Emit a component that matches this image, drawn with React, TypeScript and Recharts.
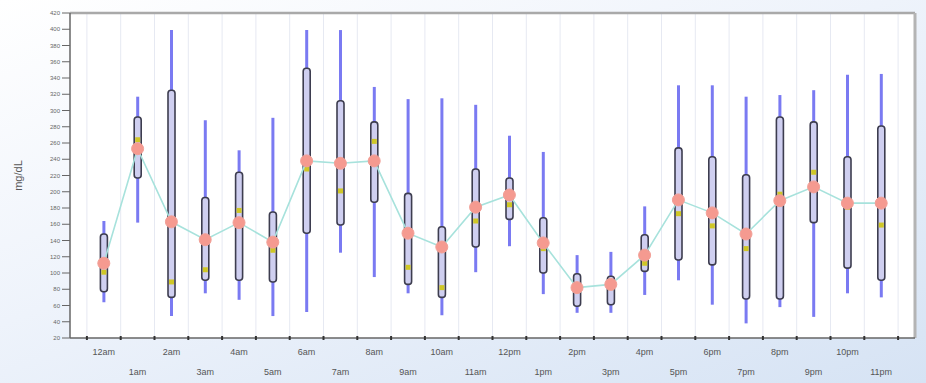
import React from 'react';
import { ComposedChart, Bar, Line, XAxis, YAxis, ReferenceLine, CartesianGrid } from 'recharts';

const hours = ['12am', '1am', '2am', '3am', '4am', '5am', '6am', '7am', '8am', '9am', '10am', '11am',
  '12pm', '1pm', '2pm', '3pm', '4pm', '5pm', '6pm', '7pm', '8pm', '9pm', '10pm', '11pm'];
const mins = [64, 162, 47, 75, 67, 47, 52, 125, 95, 75, 48, 101, 133, 74, 51, 51, 73, 91, 61, 38, 58, 46, 75, 70];
const q1s = [77, 217, 70, 91, 91, 89, 149, 159, 187, 86, 70, 132, 166, 100, 59, 61, 102, 116, 110, 68, 68, 162, 106, 91];
const medians = [101, 264, 89, 104, 177, 128, 228, 201, 262, 107, 82, 164, 184, 130, 79, 82, 112, 173, 158, 130, 197, 224, 181, 159];
const q3s = [148, 292, 325, 193, 224, 175, 352, 312, 286, 198, 157, 228, 217, 168, 99, 96, 147, 254, 243, 221, 292, 286, 243, 281];
const maxs = [164, 317, 399, 288, 251, 291, 399, 399, 329, 314, 315, 307, 269, 249, 122, 126, 182, 331, 331, 317, 319, 325, 344, 345];
const means = [112, 253, 163, 141, 162, 138, 238, 235, 238, 149, 132, 181, 196, 137, 82, 86, 122, 190, 174, 148, 189, 206, 186, 186];

const yTicks = [20, 40, 60, 80, 100, 120, 140, 160, 180, 200, 220, 240, 260, 280, 300, 320, 340, 360, 380, 400, 420];
const centers = hours.map((_, i) => i);
const boundaries = [...centers.map((i) => i - 0.5), hours.length - 0.5];
const xTicks = [...boundaries, ...centers].sort((a, b) => a - b);

const data = hours.map((label, i) => ({
  x: i,
  label,
  min: mins[i],
  q1: q1s[i],
  median: medians[i],
  q3: q3s[i],
  max: maxs[i],
  mean: means[i],
}));

const XTick = (props: any) => {
  const { x, y, payload } = props;
  const v = payload.value;
  if (Number.isInteger(v)) {
    const row = v % 2;
    return (
      <text x={x} y={y + 17 + row * 20} textAnchor="middle" fontSize={9} fill="#555" fontFamily="Arial, 'Liberation Sans', sans-serif">
        {hours[v]}
      </text>
    );
  }
  return <line x1={x} x2={x} y1={y - 2} y2={y + 2} stroke="#333" strokeWidth={2} />;
};

const BoxShape = (props: any) => {
  const { x, y, width, height, payload } = props;
  if (!payload) return null;
  const top = Math.min(y, y + height);
  const h = Math.abs(height);
  const { min, max, q1, q3, median } = payload;
  const py = (v: number) => top + ((max - v) / (max - min)) * h;
  const cx = x + width / 2;
  const bw = 7;
  const yq3 = py(q3);
  const yq1 = py(q1);
  const ym = py(median);
  return (
    <g>
      <line x1={cx} x2={cx} y1={top} y2={top + h} stroke="#7a7af2" strokeWidth={3} />
      <rect x={cx - bw / 2} y={yq3} width={bw} height={yq1 - yq3} rx={3} ry={3} fill="#cfcff0" stroke="#3d3d4f" strokeWidth={1.6} />
      <rect x={cx - 2.5} y={ym - 2.5} width={5} height={5} fill="#cfc726" />
    </g>
  );
};

const YLabel = (props: any) => {
  const vb = props.viewBox;
  const cy = vb.y + vb.height / 2;
  return (
    <text x={22} y={cy} transform={`rotate(-90, 22, ${cy})`} textAnchor="middle" fontSize={11} fill="#555" fontFamily="Arial, 'Liberation Sans', sans-serif">
      mg/dL
    </text>
  );
};

export default function App() {
  return (
    <div
      style={{
        position: 'absolute',
        left: 0,
        top: 0,
        width: 926,
        height: 383,
        background: 'linear-gradient(160deg, #ffffff 0%, #eef3fb 45%, #d6e3f4 100%)',
      }}
    >
      <ComposedChart width={926} height={383} data={data} margin={{ top: 13, right: 11, bottom: 0, left: 0 }}>
        <CartesianGrid fill="#ffffff" horizontal={false} vertical={false} />
        {boundaries.map((b) => (
          <ReferenceLine key={b} x={b} stroke="#e6e9f2" strokeWidth={1} />
        ))}
        <ReferenceLine y={420} stroke="#a9a9a9" strokeWidth={2.5} />
        <ReferenceLine x={24} stroke="#b4b4b4" strokeWidth={3} />
        <XAxis
          dataKey="x"
          type="number"
          domain={[-1, 24]}
          ticks={xTicks}
          interval={0}
          tick={<XTick />}
          tickLine={false}
          tickSize={0}
          tickMargin={0}
          height={45}
          axisLine={{ stroke: '#666', strokeWidth: 1.5 }}
          allowDataOverflow
        />
        <YAxis
          type="number"
          domain={[20, 420]}
          ticks={yTicks}
          interval={0}
          width={70}
          tickSize={8}
          tickMargin={2}
          tick={{ fontSize: 6, fill: '#666', fontFamily: 'Arial, sans-serif' }}
          tickLine={{ stroke: '#666' }}
          axisLine={{ stroke: '#666', strokeWidth: 1.5 }}
          label={<YLabel />}
          allowDataOverflow
        />
        <Bar dataKey={(d: any) => [d.min, d.max]} barSize={8} shape={<BoxShape />} isAnimationActive={false} />
        <Line
          dataKey="mean"
          type="linear"
          stroke="#a7e2dc"
          strokeWidth={1.6}
          dot={{ r: 6, fill: '#f59a90', stroke: '#f2a097', strokeWidth: 1 }}
          activeDot={false}
          isAnimationActive={false}
        />
      </ComposedChart>
    </div>
  );
}
